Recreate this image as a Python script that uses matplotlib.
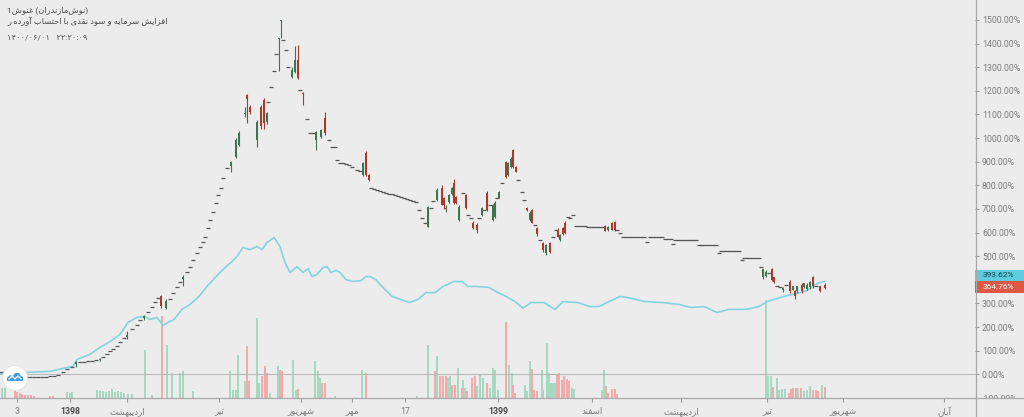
import numpy as np
import matplotlib.pyplot as plt
from matplotlib.patches import Rectangle, Polygon, Ellipse
from matplotlib.lines import Line2D
import matplotlib.transforms as mtrans

plt.rcParams['font.family'] = ['Roboto', 'DejaVu Sans']

# ---------------- data (bar index ~ trading day, values in %) ----------------
# days where open == close (drawn as short dashes)
flat_x = [0, 4, 8, 22, 26, 30, 34, 38, 42, 46, 50, 54, 58, 63, 67, 72, 80, 84, 88, 92,
          96, 103, 107, 110, 113, 117, 120, 124, 132, 137, 140, 148, 152, 155, 158, 170, 173, 177, 180, 187,
          190, 193, 197, 200, 203, 205, 208, 210, 213, 216, 218, 221, 223, 227,
          268, 271, 274, 276, 283, 286, 288, 300, 307, 310, 313, 329, 332, 335, 337, 340, 343, 346, 349, 352,
          357, 360, 371, 374, 377, 380, 383, 386, 389, 392, 395, 398, 401, 404, 407, 410, 413, 416, 419, 422,
          425, 431, 433, 463, 468, 471, 479, 484, 490, 497, 502, 518, 522, 524, 535, 540, 553, 556, 568, 570, 573,
          576, 579, 582, 585, 588, 591, 594, 597, 600, 603, 617, 620, 623, 626, 629, 632, 635, 638, 641, 644,
          647, 650, 653, 656, 659, 662, 665, 668, 671, 673, 675, 678, 681, 684, 687, 690, 693, 696, 699, 701,
          704, 707, 710, 713, 716, 719, 721, 724, 727, 730, 733, 736, 739, 742, 744, 747, 750, 753, 756, 759,
          761, 769, 777, 780, 786, 816]
flat_v = [8, 8, 8, -8, -13, -13, -13, -13, -13, -13, -8, -8, -4, 8, 21, 30, 51, 51, 55, 55,
          59, 72, 85, 97, 106, 118, 135, 152, 190, 211, 232, 266, 287, 308, 325, 317, 346, 368, 389, 435,
          456, 486, 515, 537, 562, 583, 621, 655, 689, 727, 761, 790, 833, 875,
          1153, 1217, 1284, 1356, 1415, 1373, 1301, 1204, 1082, 1022, 1022, 993, 963, 963, 908, 896, 893, 890, 885, 879,
          866, 862, 790, 785, 780, 775, 771, 768, 765, 762, 758, 754, 750, 746, 742, 738, 735, 731, 697, 663,
          642, 706, 735, 769, 676, 663, 663, 697, 718, 748, 811, 824, 773, 739, 634, 570, 583, 613, 668, 663, 676,
          627, 627, 626, 626, 625, 625, 625, 624, 624, 624, 613, 600, 583, 583, 583, 583, 583, 583, 583, 583,
          562, 583, 583, 583, 583, 583, 575, 575, 575, 553, 570, 570, 570, 570, 570, 570, 570, 570, 549, 549,
          549, 549, 549, 549, 549, 515, 524, 524, 524, 524, 524, 524, 524, 486, 494, 494, 494, 494, 494, 494,
          456, 430, 372, 368, 380, 372]

# real candles
cdl_x = [76, 100, 127, 144, 161, 166, 183, 231, 236, 239, 245, 247, 250, 257, 261, 264, 267, 279, 281, 292,
         295, 298, 303, 316, 321, 325, 363, 366, 369, 428, 437, 442, 444, 446, 449, 452, 454, 456, 459, 466,
         473, 477, 482, 487, 493, 495, 499, 506, 508, 511, 513, 516, 527, 530, 532, 537, 543, 546, 550, 558,
         560, 563, 565, 605, 608, 612, 615, 763, 766, 772, 774, 783, 790, 793, 795, 797, 802, 804, 807, 810,
         813, 820, 825]
cdl_o = [42, 59, 160, 240, 330, 283, 405, 880, 921, 972, 1100, 1183, 1132, 993, 1130, 1162, 1069, 1420, 1495, 1259,
         1280, 1331, 1190, 993, 1006, 1086, 845, 938, 845, 625, 739, 790, 748, 700, 731, 765, 811, 752, 655, 761,
         642, 634, 676, 769, 655, 668, 748, 900, 845, 879, 951, 879, 706, 655, 697, 621, 558, 515, 558, 613,
         570, 621, 642, 627, 610, 642, 646, 410, 415, 444, 410, 355, 393, 359, 351, 351, 380, 370, 360, 368,
         410, 372, 380]
cdl_h = [55, 68, 185, 253, 338, 320, 422, 905, 1000, 1030, 1132, 1187, 1140, 1075, 1140, 1170, 1110, 1424, 1500, 1300,
         1390, 1394, 1196, 1030, 1040, 1111, 900, 945, 850, 712, 790, 800, 752, 718, 765, 795, 825, 755, 715, 765,
         650, 640, 710, 775, 720, 735, 778, 905, 900, 920, 955, 882, 710, 690, 700, 625, 562, 553, 562, 620,
         595, 625, 650, 632, 628, 646, 650, 448, 440, 450, 412, 368, 398, 375, 355, 375, 385, 388, 385, 396,
         418, 376, 385]
cdl_l = [30, 55, 150, 232, 280, 275, 372, 855, 917, 965, 1090, 1065, 1100, 963, 1040, 1040, 1060, 1284, 1424, 1255,
         1275, 1250, 1141, 951, 1000, 1015, 840, 840, 820, 622, 735, 715, 700, 689, 725, 760, 720, 720, 650, 700,
         615, 600, 670, 690, 650, 660, 745, 830, 840, 875, 875, 855, 690, 650, 640, 585, 520, 505, 515, 580,
         565, 588, 595, 605, 605, 610, 608, 405, 410, 395, 385, 350, 345, 355, 320, 345, 345, 365, 355, 362,
         365, 348, 360]
cdl_c = [51, 63, 165, 245, 290, 310, 414, 900, 993, 1022, 1105, 1166, 1111, 1069, 1050, 1065, 1107, 1424, 1500, 1289,
         1331, 1255, 1185, 1027, 1035, 1022, 896, 845, 824, 710, 782, 718, 718, 705, 761, 790, 727, 727, 710, 706,
         621, 613, 706, 697, 718, 727, 773, 837, 896, 913, 879, 858, 697, 684, 642, 592, 528, 549, 520, 583,
         590, 592, 600, 608, 625, 613, 613, 444, 435, 401, 390, 365, 351, 372, 330, 372, 351, 385, 380, 393,
         372, 351, 364.76]

# comparison line (cyan)
cmp_x = [0, 25, 50, 73, 77, 90, 100, 110, 120, 128, 137, 145, 150, 157, 163, 168, 174, 182, 190, 199,
         207, 216, 224, 232, 237, 243, 250, 257, 262, 267, 274, 280, 285, 290, 297, 300, 303, 308, 312, 317,
         323, 327, 331, 336, 340, 346, 353, 361, 366, 370, 376, 382, 392, 401, 409, 418, 426, 435, 443, 454,
         462, 468, 477, 489, 498, 506, 515, 523, 531, 544, 555, 563, 578, 590, 599, 607, 620, 628, 645, 662,
         679, 691, 704, 717, 729, 746, 759, 767, 780, 792, 800, 807, 815, 820, 825]
cmp_v = [4, 8, 13, 34, 63, 85, 114, 139, 169, 220, 241, 245, 232, 241, 207, 220, 232, 275, 296, 330,
         372, 414, 448, 477, 499, 537, 528, 541, 528, 558, 579, 541, 473, 431, 456, 444, 431, 448, 414, 423,
         452, 456, 431, 440, 431, 401, 393, 397, 414, 414, 401, 372, 330, 317, 304, 317, 346, 346, 372, 393,
         393, 372, 372, 368, 346, 330, 308, 280, 304, 304, 275, 308, 304, 287, 287, 304, 330, 325, 308, 304,
         296, 283, 287, 262, 275, 275, 287, 308, 325, 338, 346, 355, 380, 389, 393.62]

# volume (relative units)
vol_up_x = [2, 5, 67, 70, 72, 97, 100, 103, 106, 109, 112, 115, 118, 121, 124, 128, 132, 145, 152, 167,
            172, 180, 183, 193, 230, 233, 236, 238, 245, 257, 259, 270, 278, 293, 296, 315, 318, 320, 335, 362,
            417, 428, 437, 448, 450, 458, 463, 465, 477, 480, 483, 490, 493, 495, 498, 509, 512, 525, 527, 530,
            542, 543, 547, 549, 551, 553, 555, 572, 574, 602, 604, 766, 768, 771, 777, 779, 782, 785, 798, 804,
            807, 810, 822]
vol_up_h = [10, 10, 6, 5, 6, 8, 7, 7, 6, 7, 9, 6, 7, 6, 5, 4, 4, 48, 3, 53,
            25, 25, 27, 7, 27, 8, 8, 43, 17, 80, 15, 5, 32, 38, 8, 37, 27, 20, 2, 28,
            2, 53, 42, 20, 22, 30, 18, 10, 12, 23, 20, 10, 30, 28, 8, 33, 25, 13, 7, 37,
            28, 8, 55, 25, 15, 15, 15, 10, 9, 8, 28, 98, 22, 22, 20, 8, 9, 9, 10, 7,
            8, 12, 13]
vol_dn_x = [15, 17, 20, 22, 25, 28, 31, 34, 50, 53, 162, 247, 249, 262, 265, 267, 280, 282, 298, 322,
            325, 366, 435, 440, 443, 446, 452, 455, 462, 467, 472, 475, 487, 506, 513, 515, 532, 534, 537, 557,
            559, 562, 564, 567, 569, 606, 608, 612, 615, 617, 773, 789, 791, 793, 796, 801, 813, 816, 818, 825]
vol_dn_h = [8, 6, 5, 4, 3, 3, 3, 2, 2, 2, 82, 52, 17, 22, 32, 25, 28, 27, 9, 15,
            15, 25, 27, 22, 22, 22, 13, 13, 10, 7, 20, 22, 15, 76, 13, 5, 29, 8, 7, 23,
            25, 18, 22, 19, 17, 12, 5, 9, 9, 4, 11, 5, 9, 10, 10, 10, 8, 8, 7, 11]

y_ticks = list(range(-100, 1600, 100))
x_tick_pos = [17, 70, 127, 219, 301, 352, 405, 498, 592, 681, 767, 843, 944]
x_tick_lbl = ['3', '1398', 'اردیبهشت', 'تیر', 'شهریور', 'مهر', '17', '1399',
              'اسفند', 'اردیبهشت', 'تیر', 'شهریور', 'آبان']

symbol = 'غنوش1'
company = ['نوش', 'مازندران']
subtitle = 'افزایش سرمایه و سود نقدی با احتساب آورده ر'
stamp = '۱۴۰۰/۰۶/۰۱   ۲۲:۲۰:۰۹'


# ---- tiny Persian shaper (matplotlib has no complex text layout) ----
FORMS = {
    '\u0627': ('\uFE8D', '\uFE8E', None, None),
    '\u0622': ('\uFE81', '\uFE82', None, None),
    '\u0628': ('\uFE8F', '\uFE90', '\uFE91', '\uFE92'),
    '\u062A': ('\uFE95', '\uFE96', '\uFE97', '\uFE98'),
    '\u062D': ('\uFEA1', '\uFEA2', '\uFEA3', '\uFEA4'),
    '\u062F': ('\uFEA9', '\uFEAA', None, None),
    '\u0631': ('\uFEAD', '\uFEAE', None, None),
    '\u0632': ('\uFEAF', '\uFEB0', None, None),
    '\u0633': ('\uFEB1', '\uFEB2', '\uFEB3', '\uFEB4'),
    '\u0634': ('\uFEB5', '\uFEB6', '\uFEB7', '\uFEB8'),
    '\u063A': ('\uFECD', '\uFECE', '\uFECF', '\uFED0'),
    '\u0641': ('\uFED1', '\uFED2', '\uFED3', '\uFED4'),
    '\u0642': ('\uFED5', '\uFED6', '\uFED7', '\uFED8'),
    '\u0645': ('\uFEE1', '\uFEE2', '\uFEE3', '\uFEE4'),
    '\u0646': ('\uFEE5', '\uFEE6', '\uFEE7', '\uFEE8'),
    '\u0647': ('\uFEE9', '\uFEEA', '\uFEEB', '\uFEEC'),
    '\u0648': ('\uFEED', '\uFEEE', None, None),
    '\u06CC': ('\uFEEF', '\uFEF0', '\uFEF3', '\uFEF4'),
    '\u064A': ('\uFEEF', '\uFEF0', '\uFEF3', '\uFEF4'),
}


def fa(word):
    """shape one Persian word and return it in visual (left-to-right) order"""
    core = [ch for ch in word if ch in FORMS]
    if not core:
        return word
    out = []
    for i, ch in enumerate(core):
        prev = core[i - 1] if i > 0 else None
        nxt = core[i + 1] if i + 1 < len(core) else None
        iso, fin, ini, med = FORMS[ch]
        jp = prev is not None and FORMS[prev][2] is not None
        jn = ini is not None and nxt is not None
        out.append(med if (jp and jn) else fin if jp else ini if jn else iso)
    return ''.join(reversed(out))


def fa_line(words):
    # right-to-left sentence: last word ends up on the left
    return ' '.join(fa(w) for w in reversed(words))


# ---------------- figure ----------------
BG = '#ececec'
W, H = 1024, 417
fig = plt.figure(figsize=(W / 100, H / 100), dpi=100, facecolor=BG)
rect = [0, 19 / H, 975 / W, 398 / H]

vax = fig.add_axes(rect, zorder=0)
vax.patch.set_visible(False)
vax.axis('off')
vax.set_xlim(0, 975)
vax.set_ylim(0, 398)
vax.bar(vol_up_x, vol_up_h, width=2.0, color='#a6d9c1', linewidth=0)
vax.bar(vol_dn_x, vol_dn_h, width=2.0, color='#f1abab', linewidth=0)

ax = fig.add_axes(rect, zorder=1)
ax.patch.set_visible(False)
ax.set_xlim(0, 975)
ax.set_ylim(-97.2, 1584.4)
for s in ax.spines.values():
    s.set_visible(False)

ax.axhline(0, color='#b9b9b9', lw=0.8, zorder=0.5)

# comparison line
ax.plot(cmp_x, cmp_v, color='#84d3df', lw=1.2, zorder=2)

# flat days (open == close)
ax.plot(flat_x, flat_v, ls='none', marker='_', ms=2.2, mew=0.9, color='#555555', zorder=3)

# candles
o = np.array(cdl_o, float)
c = np.array(cdl_c, float)
up = c >= o
col = np.where(up, '#3f7352', '#a63a2d')
ax.vlines(cdl_x, cdl_l, cdl_h, colors=col, lw=0.8, zorder=3)
body = np.maximum(np.abs(c - o), 2.5)
ax.bar(cdl_x, body, bottom=np.minimum(o, c), width=2.6, color=col, linewidth=0, zorder=4)

# y axis on the right (400% label sits under the price badges)
ax.yaxis.tick_right()
ax.set_yticks(y_ticks)
ax.set_yticklabels(['' if v == 400 else f'{v:.2f}%' for v in y_ticks])
ax.tick_params(axis='y', length=3, width=0.8, pad=2, color='#9a9a9a',
               labelcolor='#7d7d7d', labelsize=6.3)

# x axis
ax.set_xticks(x_tick_pos)
ax.set_xticklabels([fa(t) for t in x_tick_lbl])
ax.tick_params(axis='x', length=3, width=0.8, pad=3.5, color='#9a9a9a',
               labelcolor='#7d7d7d', labelsize=6.3)
for t in ax.get_xticklabels():
    if t.get_text() in ('1398', '1399'):
        t.set_fontweight('bold')
        t.set_color('#4a4a4a')

# price badges
bt = mtrans.blended_transform_factory(ax.transAxes, ax.transData)
px = 1681.6 / 398
badge_h = 12 * px
last_red = cdl_c[-1]
last_cyan = cmp_v[-1]
for val, y, fc, tc in [(last_cyan, last_red + 3 + badge_h, '#5fcbdc', '#10404e'),
                       (last_red, last_red + 3, '#df5845', 'white')]:
    ax.add_patch(Rectangle((1.0005, y - badge_h / 2), 0.051, badge_h, transform=bt,
                           facecolor=fc, edgecolor='none', clip_on=False, zorder=12))
    ax.text(1.008, y, f'{val:.2f}%', transform=bt, fontsize=6.0, color=tc,
            va='center', ha='left', zorder=13, clip_on=False)

# logo
lx, ly = 15 / 975, 20 / 398
ax.add_patch(Ellipse((lx, ly), 25 / 975, 25 / 398, transform=ax.transAxes,
                     facecolor='white', edgecolor='#dddddd', lw=0.5, zorder=8, clip_on=False))
cloud = [(-8, -3), (-8, 0), (-5, 3), (-2, 2), (0, 5), (4, 5), (6, 2), (8, 1), (8, -3)]
ax.add_patch(Polygon([(lx + dx / 975, ly + dy / 398) for dx, dy in cloud], closed=True,
                     transform=ax.transAxes, facecolor='#3d9be9', edgecolor='none', zorder=9))
zig = [(-6, -1), (-3, 2), (0, -1), (3, 2), (6, -1)]
ax.plot([lx + dx / 975 for dx, _ in zig], [ly + dy / 398 for _, dy in zig],
        transform=ax.transAxes, color='white', lw=0.9, zorder=10)

# frame lines + cover under price scale
fig.add_artist(Rectangle((976 / W, 0), 48 / W, 18.5 / H, transform=fig.transFigure,
                         facecolor=BG, edgecolor='none', zorder=20))
fig.add_artist(Line2D([0, 1], [19 / H, 19 / H], transform=fig.transFigure,
                      color='#a8a8a8', lw=0.9, zorder=21))
fig.add_artist(Line2D([975.5 / W, 975.5 / W], [0, 1], transform=fig.transFigure,
                      color='#a8a8a8', lw=0.9, zorder=21))

# legend text top-left
title = '1' + fa(symbol) + ' (' + fa(company[1]) + fa(company[0]) + ')'
fig.text(7 / W, 1 - 12 / H, title, fontsize=6.0, color='#4a4a4a', va='baseline')
fig.text(7 / W, 1 - 24.5 / H, fa_line(subtitle.split()),
         fontsize=6.0, color='#4a4a4a', va='baseline')
fig.text(7 / W, 1 - 39 / H, stamp, fontsize=6.0, color='#555555', va='baseline')

fig.savefig('out.png', dpi=100, facecolor=BG)
